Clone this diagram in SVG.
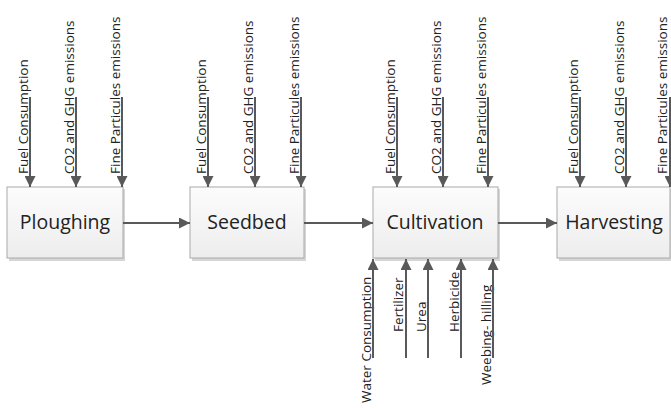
<svg xmlns="http://www.w3.org/2000/svg" width="671" height="408" viewBox="0 0 671 408">
<style>
.box{fill:url(#g);stroke:#a9a9a9;stroke-width:1}
.sh{fill:#d6d6d6}
.t{font-family:"Open Sans","Liberation Sans",sans-serif;font-size:19.5px;fill:#222;text-anchor:middle}
.l{font-family:"Open Sans","Liberation Sans",sans-serif;font-size:13.5px;fill:#222}
.c{stroke:#595959;stroke-width:2;fill:none;marker-end:url(#a)}
</style>
<defs>
<linearGradient id="g" x1="0" y1="0" x2="0" y2="1"><stop offset="0" stop-color="#fcfcfc"/><stop offset="1" stop-color="#ededed"/></linearGradient>
<marker id="a" markerUnits="userSpaceOnUse" markerWidth="11" markerHeight="11" viewBox="0 0 10 10" refX="10" refY="5" orient="auto"><path d="M0,0 L10,5 L0,10 z" fill="#595959"/></marker>
</defs>
<rect width="671" height="408" fill="#fff"/>
<g id="ploughing"><rect class="sh" x="9" y="189" width="116" height="72"/><rect class="box" x="7" y="187" width="116" height="71"/><text class="t" x="65" y="229">Ploughing</text></g>
<g id="seedbed"><rect class="sh" x="192" y="189" width="114" height="72"/><rect class="box" x="190" y="187" width="114" height="71"/><text class="t" x="247" y="229">Seedbed</text></g>
<g id="cultivation"><rect class="sh" x="375" y="189" width="125" height="72"/><rect class="box" x="373" y="187" width="125" height="71"/><text class="t" x="435" y="229">Cultivation</text></g>
<g id="harvesting"><rect class="sh" x="559" y="189" width="114" height="72"/><rect class="box" x="557" y="187" width="113" height="71"/><text class="t" x="614" y="229">Harvesting</text></g>
<g id="labels">
<text class="l" transform="translate(28,174) rotate(-90)">Fuel Consumption</text>
<text class="l" transform="translate(74,174) rotate(-90)">CO2 and GHG emissions</text>
<text class="l" transform="translate(120,174) rotate(-90)">Fine Particules emissions</text>
<text class="l" transform="translate(206,174) rotate(-90)">Fuel Consumption</text>
<text class="l" transform="translate(253,174) rotate(-90)">CO2 and GHG emissions</text>
<text class="l" transform="translate(299,174) rotate(-90)">Fine Particules emissions</text>
<text class="l" transform="translate(395,174) rotate(-90)">Fuel Consumption</text>
<text class="l" transform="translate(441,174) rotate(-90)">CO2 and GHG emissions</text>
<text class="l" transform="translate(486,174) rotate(-90)">Fine Particules emissions</text>
<text class="l" transform="translate(578,174) rotate(-90)">Fuel Consumption</text>
<text class="l" transform="translate(624,174) rotate(-90)">CO2 and GHG emissions</text>
<text class="l" transform="translate(667,174) rotate(-90)">Fine Particules emissions</text>
<text class="l" transform="translate(371,403) rotate(-90)">Water Consumption</text>
<text class="l" transform="translate(403,332) rotate(-90)">Fertilizer</text>
<text class="l" transform="translate(426,332) rotate(-90)">Urea</text>
<text class="l" transform="translate(459,332) rotate(-90)">Herbicide</text>
<text class="l" transform="translate(491,385) rotate(-90)">Weebing- hilling</text>
</g>
<g id="connectors">
<line class="c" x1="123" y1="223" x2="190" y2="223"/>
<line class="c" x1="304" y1="223" x2="373" y2="223"/>
<line class="c" x1="498" y1="223" x2="557" y2="223"/>
<line class="c" x1="30" y1="97" x2="30" y2="187"/>
<line class="c" x1="76" y1="97" x2="76" y2="187"/>
<line class="c" x1="122" y1="97" x2="122" y2="187"/>
<line class="c" x1="208" y1="97" x2="208" y2="187"/>
<line class="c" x1="255" y1="97" x2="255" y2="187"/>
<line class="c" x1="301" y1="97" x2="301" y2="187"/>
<line class="c" x1="397" y1="97" x2="397" y2="187"/>
<line class="c" x1="443" y1="97" x2="443" y2="187"/>
<line class="c" x1="488" y1="97" x2="488" y2="187"/>
<line class="c" x1="580" y1="97" x2="580" y2="187"/>
<line class="c" x1="626" y1="97" x2="626" y2="187"/>
<line class="c" x1="670" y1="97" x2="670" y2="187"/>
<line class="c" x1="373" y1="358" x2="373" y2="259"/>
<line class="c" x1="406" y1="358" x2="406" y2="259"/>
<line class="c" x1="428" y1="358" x2="428" y2="259"/>
<line class="c" x1="461" y1="358" x2="461" y2="259"/>
<line class="c" x1="493" y1="358" x2="493" y2="259"/>
</g>
</svg>
